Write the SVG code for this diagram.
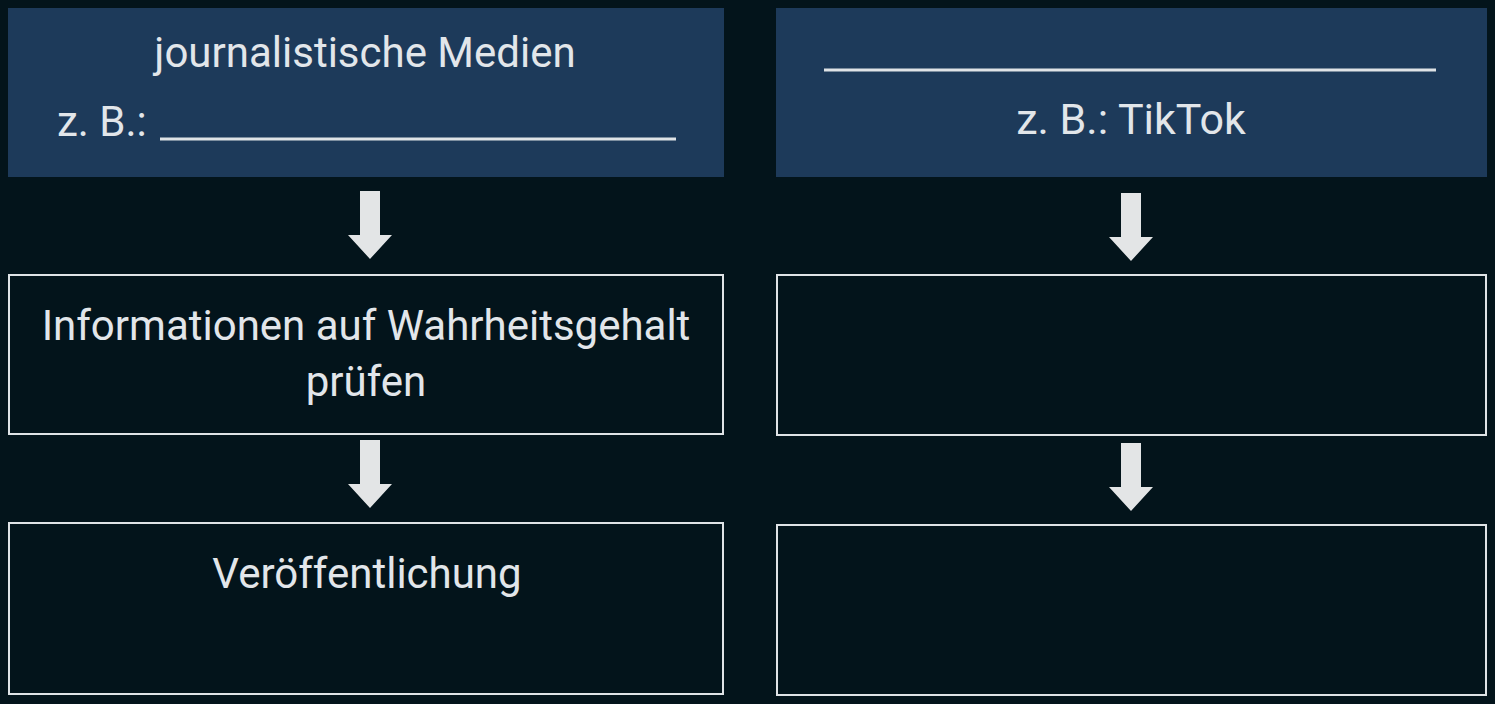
<svg xmlns="http://www.w3.org/2000/svg" width="1495" height="704" viewBox="0 0 1495 704">
<defs>
<style>
.bg{fill:#03141b}
.head{fill:#1d3a5a}
.box{fill:#03141b;stroke:#dfe3e6;stroke-width:2}
.t{font-family:Roboto,"Liberation Sans",sans-serif;font-size:42px;fill:#e2e6ea;text-anchor:middle}
.ln{stroke:#dfe3e6;stroke-width:3}
.arr{fill:#e3e5e6}
</style>
<path id="arrow" class="arr" d="M-10,0 H10 V44 H22 L0,68 L-22,44 H-10 Z"/>
</defs>
<rect class="bg" x="0" y="0" width="1495" height="704"/>
<g id="left-head">
<rect class="head" x="8" y="8" width="716" height="169"/>
<text class="t" x="365" y="67">journalistische Medien</text>
<text class="t" x="57" y="136" style="text-anchor:start">z. B.:</text>
<line class="ln" x1="160" y1="139" x2="676" y2="139"/>
</g>
<g id="right-head">
<rect class="head" x="776" y="8" width="711" height="169"/>
<line class="ln" x1="824" y1="70" x2="1436" y2="70"/>
<text class="t" x="1131" y="134" style="font-size:43px">z. B.: TikTok</text>
</g>
<g id="left-step1">
<rect class="box" x="9" y="275" width="714" height="159"/>
<text class="t" x="366" y="340">Informationen auf Wahrheitsgehalt</text>
<text class="t" x="366" y="396">prüfen</text>
</g>
<g id="left-step2">
<rect class="box" x="9" y="523" width="714" height="171"/>
<text class="t" x="367" y="588">Veröffentlichung</text>
</g>
<g id="right-step1">
<rect class="box" x="777" y="275" width="709" height="160"/>
</g>
<g id="right-step2">
<rect class="box" x="777" y="525" width="709" height="170"/>
</g>
<g id="connectors">
<use href="#arrow" x="370" y="191"/>
<use href="#arrow" x="370" y="440"/>
<use href="#arrow" x="1131" y="193"/>
<use href="#arrow" x="1131" y="443"/>
</g>
</svg>
